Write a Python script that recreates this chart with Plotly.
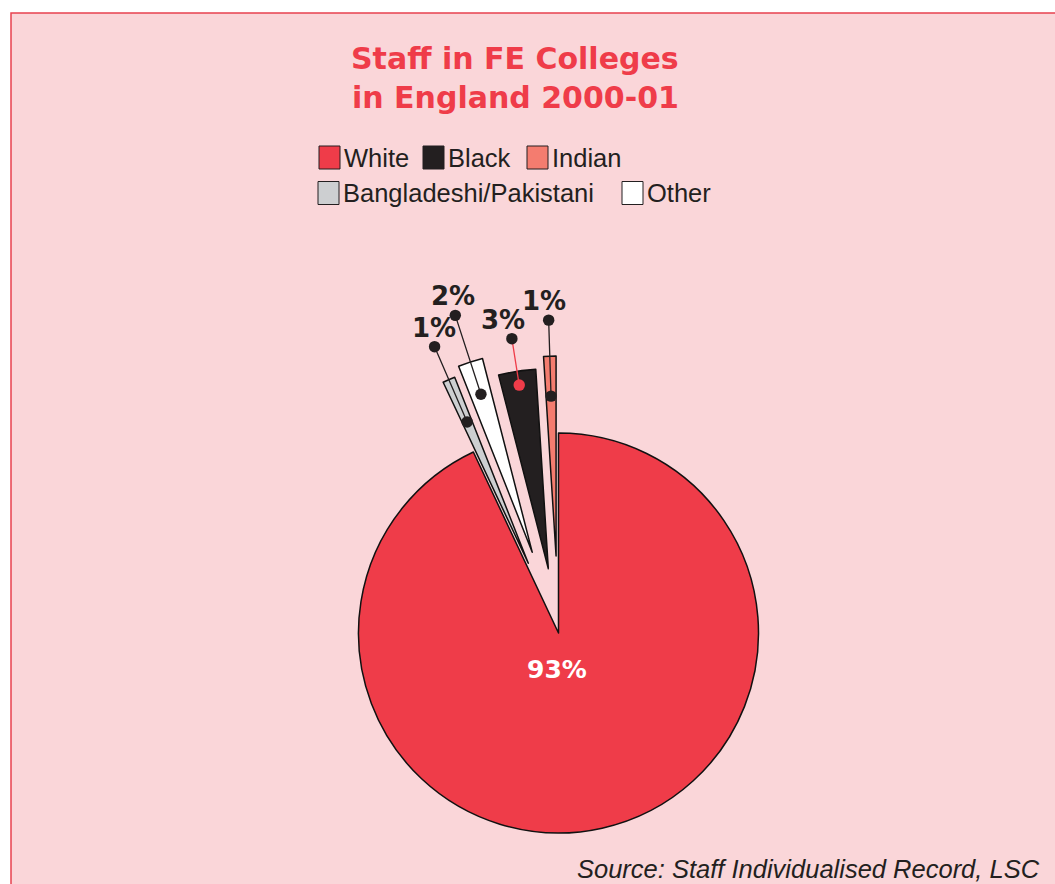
import math
import plotly.graph_objects as go

# ---- data -------------------------------------------------------------
groups = ["White", "Bangladeshi/Pakistani", "Other", "Black", "Indian"]
shares = [93, 1, 2, 3, 1]          # per cent of staff
colours = ["#EF3C49", "#CDCFD1", "#FFFFFF", "#231F20", "#F47C6F"]

legend_rows = [["White", "Black", "Indian"], ["Bangladeshi/Pakistani", "Other"]]
title_lines = ["Staff in FE Colleges", "in England 2000-01"]
source_note = "Source: Staff Individualised Record, LSC"

# ---- styling / layout ---------------------------------------------------
W, H = 1055, 884
CX, CY, R = 558.5, 633.0, 200.0           # pie centre and radius (px)
pulls = [0.0, 0.38, 0.425, 0.325, 0.385]  # explode distance as a fraction of R
leader_in = [None, 0.77, 0.83, 0.93, 0.80]     # inner dot, along slice, fraction of R
leader_out = [None, 1.18, 1.245, 1.165, 1.18]  # outer dot
leader_colour = [None, "#231F20", "#231F20", "#EF3C49", "#231F20"]
label_dx = [None, -1, -2, -9, -5]               # small horizontal nudges of the % labels
INK = "#231F20"
PANEL = "#FAD6D9"
FRAME = "#E8424F"
HEAVY = "DejaVu Sans"
PLAIN = "Liberation Sans"
DOT = 2.2                                   # dot size, relative to leader width

legend_x = [[319, 423, 527], [318, 622]]   # left edge of each swatch (px)
legend_y = [157.5, 193.0]                   # row centres (px)
SW_W, SW_H = 21, 23
title_y = [59, 97]                          # centre of each title line (px)


def to_paper(x, y):
    return x / W, 1 - y / H


# slice mid-angles, clockwise from 12 o'clock
total = sum(shares)
mids = []
acc = 0.0
for v in shares:
    mids.append((acc + v / 2) / total * 2 * math.pi)
    acc += v

fig = go.Figure()

# one pie per slice: each draws only its own wedge, its domain shifted out
# along the wedge bisector by the explode distance
for i, g in enumerate(groups):
    off = pulls[i] * R
    sx = CX + math.sin(mids[i]) * off
    sy = CY - math.cos(mids[i]) * off
    fig.add_trace(go.Pie(
        labels=groups,
        values=shares,
        sort=False,
        direction="clockwise",
        rotation=0,
        domain=dict(x=[(sx - R) / W, (sx + R) / W],
                    y=[1 - (sy + R) / H, 1 - (sy - R) / H]),
        marker=dict(
            colors=[colours[j] if j == i else "rgba(0,0,0,0)" for j in range(len(groups))],
            line=dict(color="#111111",
                      width=[1.5 if j == i else 0 for j in range(len(groups))]),
        ),
        textinfo="none",
        hoverinfo="skip",
        showlegend=False,
    ))

annotations = []
shapes = []

# background panel with its frame
x0, y1 = to_paper(11, 13)
shapes.append(dict(type="rect", xref="paper", yref="paper",
                   x0=x0, y0=-0.05, x1=1.05, y1=y1,
                   fillcolor=PANEL, line=dict(color=FRAME, width=1.5),
                   layer="below"))

# title
for line, ly in zip(title_lines, title_y):
    tx, ty = to_paper(515, ly)
    annotations.append(dict(x=tx, y=ty, xref="paper", yref="paper",
                            text=line, showarrow=False,
                            xanchor="center", yanchor="middle",
                            font=dict(family=HEAVY, size=30, color="#EF3C49", weight="bold")))

# big slice label
bx, by = to_paper(CX - 2, CY + 0.18 * R)
annotations.append(dict(x=bx, y=by, xref="paper", yref="paper",
                        text=f"{shares[0]}%", showarrow=False,
                        xanchor="center", yanchor="middle",
                        font=dict(family=HEAVY, size=25, color="white", weight="bold")))

# exploded slice labels with leader lines
for i in range(1, len(groups)):
    off = pulls[i] * R
    ux, uy = math.sin(mids[i]), -math.cos(mids[i])
    ix, iy = CX + ux * (off + leader_in[i] * R), CY + uy * (off + leader_in[i] * R)
    ox, oy = CX + ux * (off + leader_out[i] * R), CY + uy * (off + leader_out[i] * R)
    px, py = to_paper(ix, iy)
    annotations.append(dict(x=px, y=py, xref="paper", yref="paper",
                            ax=ox - ix, ay=oy - iy, text="",
                            showarrow=True, arrowhead=6, arrowsize=DOT,
                            arrowwidth=1.3, arrowcolor=leader_colour[i]))
    qx, qy = to_paper(ox, oy)
    annotations.append(dict(x=qx, y=qy, xref="paper", yref="paper",
                            ax=label_dx[i], ay=-19, text=f"{shares[i]}%",
                            showarrow=True, arrowhead=6, arrowsize=DOT,
                            arrowwidth=1.3, arrowcolor=INK,
                            borderpad=0,
                            font=dict(family=HEAVY, size=26, color=INK, weight="bold")))

# legend: swatch + name for each group
colour_of = dict(zip(groups, colours))
for row, names in enumerate(legend_rows):
    for k, name in enumerate(names):
        lx = legend_x[row][k]
        ly = legend_y[row]
        a0, b0 = to_paper(lx, ly + SW_H / 2)
        a1, b1 = to_paper(lx + SW_W, ly - SW_H / 2)
        shapes.append(dict(type="rect", xref="paper", yref="paper",
                           x0=a0, y0=b0, x1=a1, y1=b1,
                           fillcolor=colour_of[name],
                           line=dict(color=INK, width=1), layer="above"))
        tx, ty = to_paper(lx + SW_W + 2, ly)
        annotations.append(dict(x=tx, y=ty, xref="paper", yref="paper",
                                text=name, showarrow=False,
                                xanchor="left", yanchor="middle",
                                font=dict(family=PLAIN, size=25.5, color=INK)))

# source note
sx, sy = to_paper(1042, 868.5)
annotations.append(dict(x=sx, y=sy, xref="paper", yref="paper",
                        text=source_note, showarrow=False,
                        xanchor="right", yanchor="middle",
                        font=dict(family=PLAIN, size=25.5, color=INK, style="italic")))

fig.update_layout(
    width=W, height=H,
    margin=dict(l=0, r=0, t=0, b=0),
    paper_bgcolor="white",
    shapes=shapes,
    annotations=annotations,
)

fig.write_html("out.html")
